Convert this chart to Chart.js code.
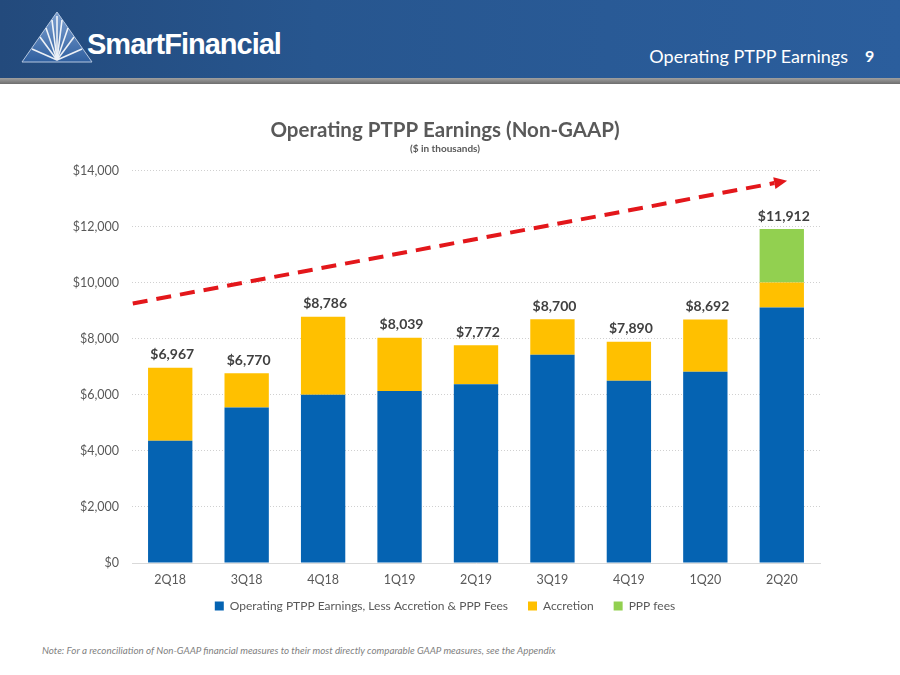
<!DOCTYPE html>
<html><head><meta charset="utf-8">
<script src="https://cdn.jsdelivr.net/npm/chart.js@4.4.1/dist/chart.umd.min.js"></script>
<style>
html,body{margin:0;padding:0;width:900px;height:675px;overflow:hidden;background:#fff;font-family:Lato,sans-serif}
#hdr{position:absolute;left:0;top:0;width:900px;height:78px;background:linear-gradient(90deg,#234a7c 0%,#27568f 35%,#2b5e9d 100%)}
#gbar{position:absolute;left:0;top:78px;width:900px;height:6px;background:linear-gradient(#a0a0a0,#6e6e6e)}
#logo{position:absolute;left:20px;top:11px}
#brand{position:absolute;left:87px;top:28px;color:#fff;font-family:"Liberation Sans",Arial,sans-serif;font-weight:bold;font-size:29px;letter-spacing:-1px;line-height:32px}
#ptitle{position:absolute;right:52px;top:45px;color:#fff;font-family:Lato,sans-serif;font-size:18px}
#pnum{position:absolute;left:865px;top:46px;color:#fff;font-family:Lato,sans-serif;font-size:16px;font-weight:bold}
#wrap{position:absolute;left:0;top:90px;width:900px;height:536px}
#note{position:absolute;left:42px;top:644px;font-family:Lato,sans-serif;font-style:italic;font-size:9.8px;color:#7f7f7f}
</style></head>
<body>
<div id="hdr"></div>
<div id="gbar"></div>
<svg id="logo" width="76" height="54" viewBox="0 0 76 54">
<defs><linearGradient id="tg" x1="0" y1="0" x2="0" y2="1"><stop offset="0" stop-color="#7fa2d2"/><stop offset="1" stop-color="#2f5f9f"/></linearGradient></defs>
<polygon points="37,1 2,51 72,51" fill="url(#tg)" stroke="#b5c7e0" stroke-width="1"/>
<g stroke="#ffffff" stroke-width="1.6" opacity="0.9">
<line x1="37" y1="49" x2="20" y2="26"/><line x1="37" y1="49" x2="26" y2="17"/><line x1="37" y1="49" x2="32" y2="9"/>
<line x1="37" y1="49" x2="37" y2="5"/><line x1="37" y1="49" x2="42" y2="9"/><line x1="37" y1="49" x2="48" y2="17"/><line x1="37" y1="49" x2="54" y2="26"/>
<line x1="37" y1="49" x2="12" y2="38"/><line x1="37" y1="49" x2="62" y2="38"/>
</g>
</svg>
<div id="brand">SmartFinancial</div>
<div id="ptitle">Operating PTPP Earnings</div>
<div id="pnum">9</div>
<div id="wrap"><canvas id="c"></canvas></div>
<div id="note">Note: For a reconciliation of Non-GAAP financial measures to their most directly comparable GAAP measures, see the Appendix</div>
<script>
const categories = ["2Q18","3Q18","4Q18","1Q19","2Q19","3Q19","4Q19","1Q20","2Q20"];
const operatingLessAccretion = [4360,5550,6000,6140,6380,7430,6500,6820,9120];
const accretion = [2607,1220,2786,1899,1392,1270,1390,1872,890];
const pppFees = [0,0,0,0,0,0,0,0,1902];
const seriesNames = ["Operating PTPP Earnings, Less Accretion & PPP Fees","Accretion","PPP fees"];
const yTicks = [0,2000,4000,6000,8000,10000,12000,14000];
// trend arrow endpoints in data units: [category index, value]
const trendStart = [-0.49, 9260];
const trendEnd = [8.07, 13640];

const fmt = v => "$" + v.toLocaleString("en-US");
const GREY = "#595959";

const totalsPlugin = {
  id: "totals",
  afterDatasetsDraw(chart) {
    const ctx = chart.ctx, x = chart.scales.x, y = chart.scales.y;
    ctx.save();
    ctx.font = "bold 14px Lato";
    ctx.fillStyle = "#404040";
    ctx.textAlign = "center";
    ctx.textBaseline = "bottom";
    categories.forEach((c, i) => {
      const t = operatingLessAccretion[i] + accretion[i] + pppFees[i];
      ctx.fillText(fmt(t), x.getPixelForValue(i) + 2, y.getPixelForValue(t) - 6);
    });
    ctx.restore();
  }
};
const trendPlugin = {
  id: "trend",
  afterDatasetsDraw(chart) {
    const ctx = chart.ctx, x = chart.scales.x, y = chart.scales.y;
    const x0 = x.getPixelForValue(trendStart[0]), y0 = y.getPixelForValue(trendStart[1]);
    const x1 = x.getPixelForValue(trendEnd[0]), y1 = y.getPixelForValue(trendEnd[1]);
    const ang = Math.atan2(y1 - y0, x1 - x0);
    const hl = 13;
    const bx = x1 - hl * Math.cos(ang), by = y1 - hl * Math.sin(ang);
    ctx.save();
    ctx.strokeStyle = "#e3171b";
    ctx.lineWidth = 4;
    ctx.setLineDash([15, 9]);
    ctx.beginPath(); ctx.moveTo(x0, y0); ctx.lineTo(bx, by); ctx.stroke();
    ctx.setLineDash([]);
    ctx.fillStyle = "#e3171b";
    ctx.beginPath();
    ctx.moveTo(x1, y1);
    ctx.lineTo(bx + 6 * Math.sin(ang), by - 6 * Math.cos(ang));
    ctx.lineTo(bx - 6 * Math.sin(ang), by + 6 * Math.cos(ang));
    ctx.closePath(); ctx.fill();
    ctx.restore();
  }
};

new Chart(document.getElementById("c"), {
  type: "bar",
  data: {
    labels: categories,
    datasets: [
      {label: seriesNames[0], data: operatingLessAccretion, backgroundColor: "#0563b2"},
      {label: seriesNames[1], data: accretion, backgroundColor: "#ffc000"},
      {label: seriesNames[2], data: pppFees, backgroundColor: "#92d050"}
    ]
  },
  options: {
    responsive: true,
    maintainAspectRatio: false,
    animation: false,
    layout: {padding: {left: 70, right: 80, top: 12, bottom: 4}},
    datasets: {bar: {categoryPercentage: 1, barPercentage: 0.58}},
    plugins: {
      title: {display: true, text: "Operating PTPP Earnings (Non-GAAP)", color: GREY,
        font: {family: "Lato", size: 20.5, weight: "bold"}, padding: {top: 16, bottom: 0}},
      subtitle: {display: true, text: "($ in thousands)", color: GREY,
        font: {family: "Lato", size: 10, weight: "bold"}, padding: {top: 0, bottom: 16}},
      legend: {position: "bottom", labels: {color: GREY, boxWidth: 9, boxHeight: 9, padding: 20,
        font: {family: "Lato", size: 12}}},
      tooltip: {enabled: false}
    },
    scales: {
      x: {stacked: true,
        grid: {display: false, drawTicks: false},
        border: {display: true, color: "#d9d9d9", width: 1},
        ticks: {color: GREY, font: {family: "Lato", size: 12.5}, padding: 9},
        afterFit(s) { s.height = 17; s._computeLabelArea = () => undefined; }
      },
      y: {stacked: true, min: 0, max: 14000,
        afterBuildTicks(s) { s.ticks = yTicks.map(v => ({value: v})); },
        grid: {color: "#d0d0d0", drawTicks: false, lineWidth: 1},
        border: {display: false, dash: [1, 2]},
        ticks: {color: GREY, font: {family: "Lato", size: 12.5}, padding: 13, callback: v => fmt(v)},
        afterFit(s) { s.width = 62; }
      }
    }
  },
  plugins: [totalsPlugin, trendPlugin]
});
</script>
</body></html>
